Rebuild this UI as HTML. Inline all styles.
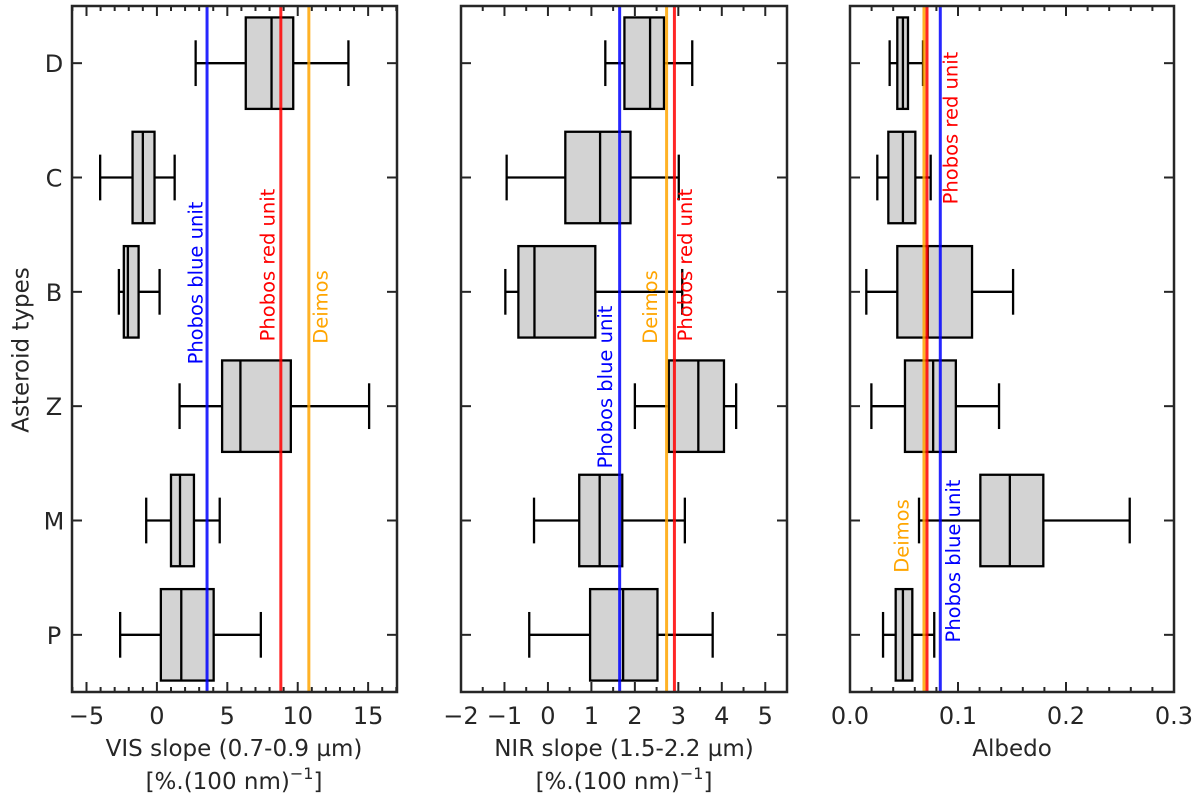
<!DOCTYPE html>
<html><head><meta charset="utf-8"><style>
html,body{margin:0;padding:0;background:#fff;}
svg{display:block;font-family:"DejaVu Sans","Liberation Sans",sans-serif;}
</style></head><body>
<svg id="chart" width="1200" height="798" viewBox="0 0 1200 798" xmlns="http://www.w3.org/2000/svg">
<text x="22" y="350" font-size="23" fill="#262626" text-anchor="middle" dominant-baseline="middle" transform="rotate(-90 22 350)">Asteroid types</text>
<text x="234" y="756" font-size="23" fill="#262626" text-anchor="middle">VIS slope (0.7-0.9 µm)</text>
<text x="234" y="789" font-size="23" fill="#262626" text-anchor="middle">[%.(100 nm)<tspan dy="-10" font-size="16">−1</tspan><tspan dy="10">]</tspan></text>
<text x="624" y="756" font-size="23" fill="#262626" text-anchor="middle">NIR slope (1.5-2.2 µm)</text>
<text x="624" y="789" font-size="23" fill="#262626" text-anchor="middle">[%.(100 nm)<tspan dy="-10" font-size="16">−1</tspan><tspan dy="10">]</tspan></text>
<text x="1012" y="756" font-size="23" fill="#262626" text-anchor="middle">Albedo</text>
</svg>
<script>
const categories = ["D","C","B","Z","M","P"];
// VIS slope
const visWhiskLo = [2.75,-4.03,-2.7,1.61,-0.76,-2.61];
const visQ1      = [6.31,-1.73,-2.35,4.63,1.0,0.28];
const visMed     = [8.14,-1.0,-2.06,5.93,1.64,1.73];
const visQ3      = [9.68,-0.17,-1.3,9.51,2.63,4.03];
const visWhiskHi = [13.6,1.26,0.19,15.07,4.46,7.38];
const visRefs    = [3.56,8.8,10.79];
const visTicks   = [-5,0,5,10,15];
// NIR slope
const nirWhiskLo = [1.32,-0.95,-0.98,2.0,-0.32,-0.43];
const nirQ1      = [1.76,0.4,-0.68,2.78,0.72,0.97];
const nirMed     = [2.35,1.2,-0.31,3.46,1.19,1.73];
const nirQ3      = [2.67,1.9,1.09,4.05,1.71,2.52];
const nirWhiskHi = [3.32,3.01,3.09,4.33,3.15,3.79];
const nirRefs    = [1.65,2.91,2.73];
const nirTicks   = [-2,-1,0,1,2,3,4,5];
// Albedo
const albWhiskLo = [0.0367,0.0253,0.0151,0.0198,0.0639,0.0306];
const albQ1      = [0.0438,0.0355,0.0438,0.0509,0.1207,0.0423];
const albMed     = [0.049,0.049,0.072,0.077,0.148,0.049];
const albQ3      = [0.0537,0.0605,0.113,0.098,0.179,0.0577];
const albWhiskHi = [0.0676,0.0747,0.151,0.138,0.259,0.078];
const albRefs    = [0.0836,0.0713,0.0685];
const albTicks   = [0.0,0.1,0.2,0.3];
const refNames = ["Phobos blue unit","Phobos red unit","Deimos"];

const NS="http://www.w3.org/2000/svg";
const svg=document.getElementById('chart');
function mk(tag,attrs,parent){const e=document.createElementNS(NS,tag);for(const k in attrs)e.setAttribute(k,attrs[k]);(parent||svg).appendChild(e);return e;}
const TOP=6,BOT=692;
const step=(BOT-TOP)/categories.length;
function yPos(i){return TOP+step*(i+0.5);}
const refColors=["#0000ff","#ff0000","#ffa500"];

const panels=[
 {key:'vis',x0:72,x1:397,lo:-6.03,hi:17.05,minor:1,lo_:visWhiskLo,q1:visQ1,md:visMed,q3:visQ3,hi_:visWhiskHi,refs:visRefs,ticks:visTicks,fmt:v=>v<0?'−'+(-v):String(v),
  labels:[{dx:-10,cy:283},{dx:-12,cy:265},{dx:13,cy:307}],ylabels:true},
 {key:'nir',x0:461,x1:787,lo:-2,hi:5.5,minor:0.5,lo_:nirWhiskLo,q1:nirQ1,md:nirMed,q3:nirQ3,hi_:nirWhiskHi,refs:nirRefs,ticks:nirTicks,fmt:v=>v<0?'−'+(-v):String(v),
  labels:[{dx:-13,cy:387},{dx:12,cy:265},{dx:-15,cy:307}]},
 {key:'albedo',x0:850,x1:1174,lo:0,hi:0.3,minor:0.02,lo_:albWhiskLo,q1:albQ1,md:albMed,q3:albQ3,hi_:albWhiskHi,refs:albRefs,ticks:albTicks,fmt:v=>v.toFixed(1),
  labels:[{dx:14,cy:561},{dx:25,cy:128},{dx:-21,cy:536}]}
];
const bh=step*0.8/2, ch=step*0.4/2;
panels.forEach(p=>{
  const xs=v=>p.x0+(v-p.lo)/(p.hi-p.lo)*(p.x1-p.x0);
  const g=mk('g',{});
  
  
  categories.forEach((c,i)=>{
    const y=yPos(i);
    const b=mk('g',{},g);
    
    
    const st={stroke:'#000','stroke-width':2.3,fill:'none'};
    mk('line',Object.assign({x1:xs(p.lo_[i]),x2:xs(p.q1[i]),y1:y,y2:y},st),b);
    mk('line',Object.assign({x1:xs(p.q3[i]),x2:xs(p.hi_[i]),y1:y,y2:y},st),b);
    mk('line',Object.assign({x1:xs(p.lo_[i]),x2:xs(p.lo_[i]),y1:y-ch,y2:y+ch},st),b);
    mk('line',Object.assign({x1:xs(p.hi_[i]),x2:xs(p.hi_[i]),y1:y-ch,y2:y+ch},st),b);
    mk('rect',{x:xs(p.q1[i]),y:y-bh,width:xs(p.q3[i])-xs(p.q1[i]),height:2*bh,fill:'#d3d3d3',stroke:'#000','stroke-width':2.3},b);
    mk('line',Object.assign({x1:xs(p.md[i]),x2:xs(p.md[i]),y1:y-bh,y2:y+bh},st),b);
  });
  p.refs.forEach((v,k)=>{
    const l=mk('line',{x1:xs(v),x2:xs(v),y1:TOP,y2:BOT,stroke:refColors[k],'stroke-width':3,'stroke-opacity':0.85},g);
    
    
    const lx=xs(v)+p.labels[k].dx, ly=p.labels[k].cy;
    const t=mk('text',{x:lx,y:ly,'font-size':19.5,fill:refColors[k],'text-anchor':'middle','dominant-baseline':'middle',transform:`rotate(-90 ${lx} ${ly})`},g);
    t.textContent=refNames[k];
    
    
  });
  const tc='#262626';
  const nMin=Math.ceil(p.lo/p.minor-1e-6), nMax=Math.floor(p.hi/p.minor+1e-6);
  for(let n=nMin;n<=nMax;n++){
    const v=n*p.minor, x=xs(v);
    const major=p.ticks.some(t=>Math.abs(t-v)<1e-6);
    const len=major?10:5;
    mk('line',{x1:x,x2:x,y1:BOT,y2:BOT-len,stroke:tc,'stroke-width':2},g);
    mk('line',{x1:x,x2:x,y1:TOP,y2:TOP+len,stroke:tc,'stroke-width':2},g);
  }
  p.ticks.forEach(v=>{
    const t=mk('text',{x:xs(v),y:724,'font-size':24,fill:tc,'text-anchor':'middle'},g);
    t.textContent=p.fmt(v);
    
    
  });
  categories.forEach((c,i)=>{
    const y=yPos(i);
    mk('line',{x1:p.x0,x2:p.x0+10,y1:y,y2:y,stroke:tc,'stroke-width':2},g);
    mk('line',{x1:p.x1,x2:p.x1-10,y1:y,y2:y,stroke:tc,'stroke-width':2},g);
    if(p.ylabels){
      const t=mk('text',{x:54,y:y+9,'font-size':24,fill:tc,'text-anchor':'middle'},g);
      t.textContent=c;
      
      
    }
  });
  const f=mk('rect',{x:p.x0,y:TOP,width:p.x1-p.x0,height:BOT-TOP,fill:'none',stroke:tc,'stroke-width':2.5},g);
  
  
});
</script>
</body></html>
